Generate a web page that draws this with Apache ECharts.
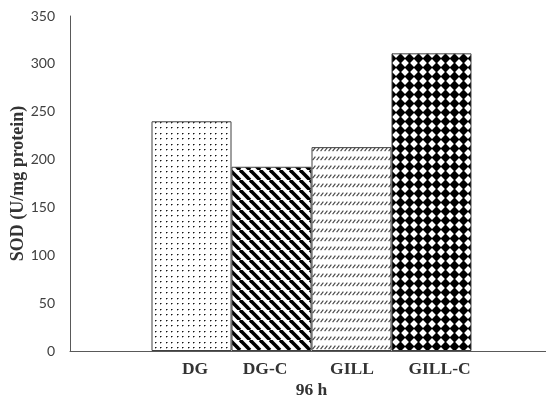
<!DOCTYPE html>
<html>
<head>
<meta charset="utf-8">
<script src="https://cdn.jsdelivr.net/npm/echarts@6/dist/echarts.min.js"></script>
<style>html,body{margin:0;padding:0;background:#fff;}#chart{width:546px;height:398px;}</style>
</head>
<body>
<div id="chart"></div>
<script>
// ---- data ----
const categories = ['96 h'];
const seriesNames = ['DG', 'DG-C', 'GILL', 'GILL-C'];
const seriesValues = [240, 192.5, 213, 311];
const yAxisTitle = 'SOD (U/mg protein)';
const yMin = 0, yMax = 350, yInterval = 50;

// ---- styling helpers ----
function makeTile(w, h, draw) {
  const c = document.createElement('canvas');
  c.width = w; c.height = h;
  const ctx = c.getContext('2d');
  ctx.fillStyle = '#ffffff';
  ctx.fillRect(0, 0, w, h);
  draw(ctx, w, h);
  return c;
}
const dots = makeTile(11, 11, (ctx) => {
  [[1,1],[6,1],[1,6],[6,6]].forEach(([x,y]) => {
    ctx.fillStyle = '#111'; ctx.fillRect(x, y, 1, 1);
    ctx.fillStyle = '#888'; ctx.fillRect(x+1, y, 1, 1);
    ctx.fillStyle = '#aaa'; ctx.fillRect(x, y+1, 1, 1);
  });
});
const stripes = makeTile(10, 10, (ctx, w) => {
  ctx.strokeStyle = '#000'; ctx.lineWidth = 3.6;
  for (let k = -1; k <= 1; k++) {
    ctx.beginPath(); ctx.moveTo(k*w, 0); ctx.lineTo(k*w + w, w); ctx.stroke();
  }
});
const dashes = makeTile(4, 9, (ctx) => {
  ctx.strokeStyle = '#444'; ctx.lineWidth = 1.1;
  ctx.beginPath(); ctx.moveTo(0.6, 7.2); ctx.lineTo(3.4, 3.6); ctx.stroke();
});
const diamonds = makeTile(9, 9, (ctx) => {
  ctx.fillStyle = '#000';
  const cx = 4.5, cy = 4.5, r = 5.1;
  ctx.beginPath();
  ctx.moveTo(cx, cy - r); ctx.lineTo(cx + r, cy); ctx.lineTo(cx, cy + r); ctx.lineTo(cx - r, cy);
  ctx.closePath(); ctx.fill();
});
const patterns = [dots, stripes, dashes, diamonds];
const labelOffsetX = [3.5, -6.5, 0.5, 8];

const serifBold = { fontFamily: 'Liberation Serif', fontWeight: 'bold', color: '#333333' };

const chart = echarts.init(document.getElementById('chart'), null, { renderer: 'canvas' });
chart.setOption({
  animation: false,
  backgroundColor: '#ffffff',
  grid: { left: 70, right: -7, top: 16, bottom: 47, containLabel: false, outerBoundsMode: 'none' },
  xAxis: {
    type: 'category',
    data: categories,
    axisLine: { show: true, lineStyle: { color: '#595959', width: 1 } },
    axisTick: { show: false },
    axisLabel: Object.assign({ margin: 30, fontSize: 17.5 }, serifBold),
    splitLine: { show: false }
  },
  yAxis: {
    type: 'value',
    min: yMin, max: yMax, interval: yInterval,
    name: yAxisTitle,
    nameLocation: 'middle',
    nameGap: 43,
    nameMoveOverlap: false,
    nameTextStyle: Object.assign({ fontSize: 18 }, serifBold),
    axisLine: { show: true, lineStyle: { color: '#595959', width: 1 } },
    axisTick: { show: false },
    axisLabel: { margin: 15, fontFamily: 'Lato', fontSize: 14, color: '#404040' },
    splitLine: { show: false }
  },
  series: seriesNames.map((name, i) => ({
    type: 'bar',
    name: name,
    data: [seriesValues[i]],
    barWidth: 80,
    barGap: '0%',
    itemStyle: {
      color: { image: patterns[i], repeat: 'repeat' },
      borderColor: '#404040',
      borderWidth: 1
    },
    label: Object.assign({
      show: true,
      position: 'bottom',
      distance: 9,
      offset: [labelOffsetX[i], 0],
      formatter: name,
      fontSize: 17.5
    }, serifBold),
    emphasis: { disabled: true }
  }))
});
</script>
</body>
</html>
